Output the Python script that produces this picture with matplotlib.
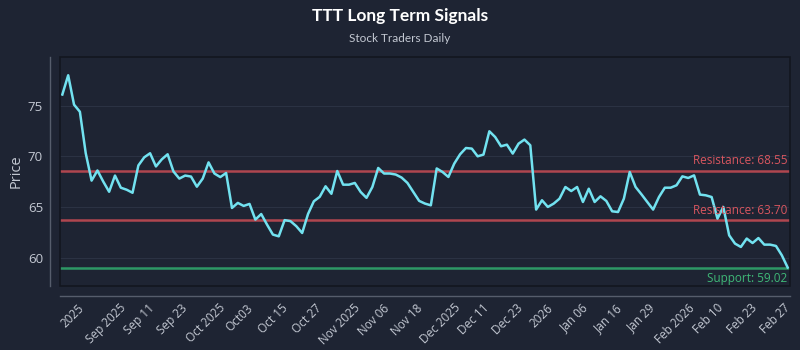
import matplotlib
matplotlib.use("Agg")
import matplotlib.pyplot as plt
import numpy as np
from matplotlib.patches import Rectangle

# daily closing prices, oldest first
prices = [
    76.1, 78.0, 75.1, 74.4, 70.3, 67.6, 68.6, 67.5, 66.5, 68.1,
    66.9, 66.7, 66.4, 69.1, 69.9, 70.3, 69.0, 69.7, 70.2, 68.5,
    67.8, 68.1, 68.0, 67.0, 67.8, 69.4, 68.3, 67.95, 68.35, 64.9,
    65.4, 65.1, 65.3, 63.75, 64.3, 63.25, 62.27, 62.1, 63.7, 63.6,
    63.1, 62.43, 64.3, 65.56, 66.0, 67.04, 66.3, 68.55, 67.2, 67.2,
    67.37, 66.48, 65.9, 66.97, 68.85, 68.3, 68.3, 68.2, 67.9, 67.37,
    66.48, 65.6, 65.33, 65.16, 68.8, 68.45, 67.96, 69.28, 70.2, 70.82,
    70.76, 70.0, 70.17, 72.47, 71.9, 70.99, 71.15, 70.27, 71.25, 71.65,
    71.09, 64.74, 65.66, 65.0, 65.33, 65.82, 66.97, 66.57, 66.97, 65.49,
    66.8, 65.49, 66.05, 65.59, 64.57, 64.5, 65.82, 68.45, 66.97, 66.25,
    65.49, 64.74, 65.98, 66.9, 66.9, 67.14, 68.02, 67.86, 68.12, 66.22,
    66.15, 65.98, 63.85, 65.0, 62.2, 61.38, 61.05, 61.88, 61.44, 61.93,
    61.28, 61.28, 61.15, 60.23, 59.02,
]

tick_labels = [
    "2025", "Sep 2025", "Sep 11", "Sep 23", "Oct 2025", "Oct03", "Oct 15",
    "Oct 27", "Nov 2025", "Nov 06", "Nov 18", "Dec 2025", "Dec 11", "Dec 23",
    "2026", "Jan 06", "Jan 16", "Jan 29", "Feb 2026", "Feb 10", "Feb 23", "Feb 27",
]

resistance_levels = [68.55, 63.70]
support_levels = [59.02]

BG = "#1e2433"
TXT = "#c3c8d2"
LINE = "#72e2f0"
RED = "#c04a53"
RED_TXT = "#d9565f"
GREEN = "#2fa56b"
GREEN_TXT = "#3fb877"

plt.rcParams["font.family"] = ["Open Sans", "DejaVu Sans"]

fig = plt.figure(figsize=(8, 3.5), dpi=100, facecolor=BG)
ax = fig.add_axes([0.075, 0.183, 0.9125, 0.654])
ax.set_facecolor(BG)

x = np.arange(len(prices))
ax.plot(x, prices, color=LINE, lw=1.8, zorder=4)

for lvl in resistance_levels:
    ax.axhline(lvl, color=RED, lw=1.8, alpha=0.9, zorder=3)
    ax.text(0.996, lvl + 0.35, f"Resistance: {lvl:.2f}", transform=ax.get_yaxis_transform(),
            ha="right", va="bottom", color=RED_TXT, fontsize=8.5, zorder=5)
for lvl in support_levels:
    ax.axhline(lvl, color=GREEN, lw=1.8, alpha=0.9, zorder=3)
    ax.text(0.996, lvl - 0.45, f"Support: {lvl:.2f}", transform=ax.get_yaxis_transform(),
            ha="right", va="top", color=GREEN_TXT, fontsize=8.5, zorder=5)

ax.set_xlim(-0.4, len(prices) - 1 + 0.4)
ax.set_ylim(57.2, 79.8)
ax.set_yticks([60, 65, 70, 75])
ax.set_xticks(np.linspace(1.7, 121.9, len(tick_labels)))
ax.set_xticklabels(tick_labels)
ax.tick_params(axis="both", length=0, colors=TXT)
ax.tick_params(axis="y", pad=5, labelsize=9.5)
ax.tick_params(axis="x", pad=4, labelsize=8.5, labelrotation=45)
for lab in ax.get_xticklabels():
    lab.set_ha("right")
    lab.set_rotation_mode("default")

ax.grid(axis="y", color="#2b3243", lw=0.8, zorder=0)
ax.grid(axis="x", visible=False)

for side in ("top", "right"):
    ax.spines[side].set_visible(False)
for side in ("left", "bottom"):
    ax.spines[side].set_position(("outward", 7.2))
    ax.spines[side].set_color("#565d6c")
    ax.spines[side].set_linewidth(1.0)

# dark inner frame around the plotting area
ax.add_patch(Rectangle((0, 0), 1, 1, transform=ax.transAxes, fill=False,
                       edgecolor="#12161f", lw=1.2, zorder=6, clip_on=False))

ax.set_ylabel("Price", color=TXT, fontsize=10.5, labelpad=3)

fig.text(0.5, 0.953, "TTT Long Term Signals", ha="center", va="center",
         color="white", fontsize=12.5, fontweight="bold", family=["Lato", "DejaVu Sans"])
fig.text(0.5, 0.89, "Stock Traders Daily", ha="center", va="center",
         color=TXT, fontsize=8.5, family=["Lato", "DejaVu Sans"])

fig.savefig("out.png", dpi=100, facecolor=BG)
